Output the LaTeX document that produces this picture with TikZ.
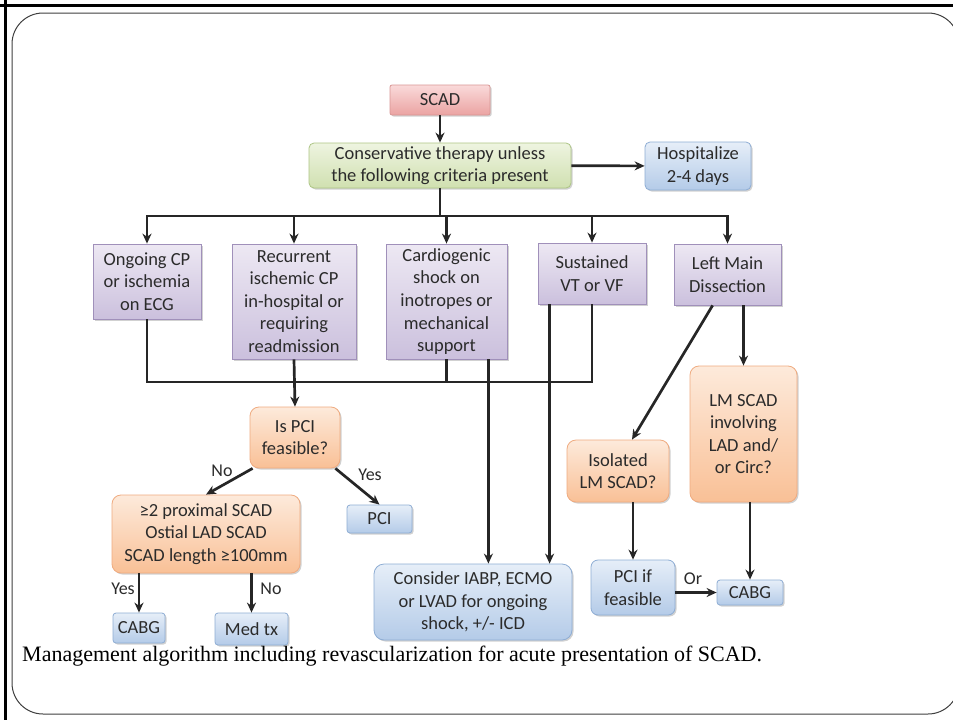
\documentclass[tikz,border=0pt]{standalone}
\usepackage{fontspec}
\usetikzlibrary{arrows.meta,shadows}
\newfontfamily\boxfamily{Carlito}
\newfontfamily\capfamily{Liberation Serif}
\definecolor{txt}{HTML}{2B2B2B}
\definecolor{pinkT}{HTML}{FADADA}\definecolor{pinkB}{HTML}{EBA3A2}\definecolor{pinkD}{HTML}{D99694}
\definecolor{greenT}{HTML}{EEF4E0}\definecolor{greenB}{HTML}{D0E0B0}\definecolor{greenD}{HTML}{ADC585}
\definecolor{blueT}{HTML}{E6EEF8}\definecolor{blueB}{HTML}{B4CBE8}\definecolor{blueD}{HTML}{8EADD4}
\definecolor{purpT}{HTML}{EDE8F3}\definecolor{purpB}{HTML}{CBC0DD}\definecolor{purpD}{HTML}{A090BA}
\definecolor{oranT}{HTML}{FDEADB}\definecolor{oranB}{HTML}{F9C096}\definecolor{oranD}{HTML}{EFAB80}
\begin{document}
\begin{tikzpicture}[x=1pt,y=-1pt,
  box/.style={draw, line width=0.8pt, text=txt, align=center, inner sep=2pt,
    font=\boxfamily\fontsize{18.5}{22.6}\selectfont,
    general shadow={fill=black, opacity=0.18, shadow xshift=1.5pt, shadow yshift=-1.5pt}},
  pinkbox/.style={box, draw=pinkD, top color=pinkT, bottom color=pinkB, rounded corners=2pt},
  greenbox/.style={box, draw=greenD, top color=greenT, bottom color=greenB, rounded corners=5pt},
  bluebox/.style={box, draw=blueD, top color=blueT, bottom color=blueB, rounded corners=5pt},
  purpbox/.style={box, draw=purpD, top color=purpT, bottom color=purpB},
  oranbox/.style={box, draw=oranD, top color=oranT, bottom color=oranB, rounded corners=9pt},
  lab/.style={text=txt, font=\boxfamily\fontsize{18}{22}\selectfont, inner sep=1pt},
  ln/.style={line width=2.7pt, draw=black!85},
  arr/.style={ln, -{Stealth[length=10pt,width=9pt]}}
]
\useasboundingbox (0,0) rectangle (953,720);
\fill[white] (0,0) rectangle (953,720);
\begin{scope}
\clip (0,0) rectangle (953,720);
\draw[black!75, line width=1pt, rounded corners=31pt] (12,13) rectangle (959,714);
\draw[black, line width=3pt] (0,5.5) -- (953,5.5);
\draw[black, line width=3pt] (5.5,0) -- (5.5,720);
\end{scope}

% nodes
\node[pinkbox, minimum width=100pt, minimum height=30pt] (scad) at (440,100) {SCAD};
\node[greenbox, minimum width=262pt, minimum height=45pt] (cons) at (440,165.5) {Conservative therapy unless\\the following criteria present};
\node[bluebox, minimum width=106pt, minimum height=48pt] (hosp) at (698,166) {Hospitalize\\2-4 days};

\node[purpbox, minimum width=108pt, minimum height=75pt] (ongo) at (147,281.5) {Ongoing CP\\or ischemia\\on ECG};
\node[purpbox, minimum width=124pt, minimum height=115pt] (recur) at (294,301.5) {Recurrent\\ischemic CP\\in-hospital or\\requiring\\readmission};
\node[purpbox, minimum width=121pt, minimum height=115pt] (cardio) at (446.5,301.5) {Cardiogenic\\shock on\\inotropes or\\mechanical\\support};
\node[purpbox, minimum width=108pt, minimum height=61pt] (sust) at (592,273.5) {Sustained\\VT or VF};
\node[purpbox, minimum width=107pt, minimum height=61pt] (lmain) at (727.5,274.5) {Left Main\\Dissection};

\node[oranbox, minimum width=90pt, minimum height=61pt] (ispci) at (295,437.5) {Is PCI\\feasible?};
\node[bluebox, rounded corners=3pt, minimum width=65pt, minimum height=28pt] (pci) at (379.5,519) {PCI};
\node[oranbox, minimum width=188pt, minimum height=78pt] (prox) at (206,534) {≥2 proximal SCAD\\Ostial LAD SCAD\\SCAD length ≥100mm};
\node[bluebox, rounded corners=3pt, minimum width=52pt, minimum height=30pt] (cabgl) at (139,628) {CABG};
\node[bluebox, rounded corners=3pt, minimum width=73pt, minimum height=32pt] (medtx) at (251.5,629) {Med tx};

\node[bluebox, rounded corners=10pt, minimum width=198pt, minimum height=76pt] (consid) at (473,602) {Consider IABP, ECMO\\or LVAD for ongoing\\shock, +/- ICD};

\node[oranbox, minimum width=102pt, minimum height=62pt] (isol) at (618,471) {Isolated\\LM SCAD?};
\node[oranbox, minimum width=107pt, minimum height=136pt] (lmscad) at (743.5,434) {LM SCAD\\involving\\LAD and/\\or Circ?};
\node[bluebox, rounded corners=7pt, minimum width=84pt, minimum height=55pt] (pciif) at (633,587.5) {PCI if\\feasible};
\node[bluebox, rounded corners=3pt, minimum width=66pt, minimum height=25pt] (cabgr) at (750,592.5) {CABG};

% labels
\node[lab] (lno1) at (222,471) {No};
\node[lab] (lyes1) at (370,475) {Yes};
\node[lab] (lyes2) at (123,589) {Yes};
\node[lab] (lno2) at (271,589) {No};
\node[lab] (lor) at (693,579) {Or};

\node[anchor=base west, inner sep=0pt, text=black, font=\capfamily\fontsize{22}{24}\selectfont] (cap) at (22,661) {Management algorithm including revascularization for acute presentation of SCAD.};

% connectors
\coordinate (bus) at (440,216);
\coordinate (lbus) at (0,382);
\draw[arr] (scad) -- (cons);
\draw[arr] (cons) -- (hosp);
\draw[ln] (cons.south) -- (bus);
\draw[arr] (bus) -| (ongo.north);
\draw[arr] (bus) -| (lmain.north);
\draw[arr] (bus -| recur.north) -- (recur.north);
\draw[arr] (bus -| cardio.north) -- (cardio.north);
\draw[arr] (bus -| sust.north) -- (sust.north);

\draw[ln] (ongo.south) |- (lbus -| sust.south) -- (sust.south);
\draw[ln] (cardio.south) -- (cardio.south |- lbus);
\draw[arr] (recur.south) -- (ispci.north);

\coordinate (c1) at ([xshift=-19pt]cardio.south east);
\coordinate (s1) at ([xshift=12pt]sust.south west);
\draw[arr] (c1) -- (c1 |- consid.north);
\draw[arr] (s1) -- (s1 |- consid.north);

\draw[arr] ([xshift=3pt]ispci.south west) -- (prox.north);
\draw[arr] ([xshift=-5pt]ispci.south east) -- (pci.north);
\draw[arr] (cabgl.north |- prox.south) -- (cabgl.north);
\draw[arr] (medtx.north |- prox.south) -- (medtx.north);

\coordinate (lm1) at ([xshift=39pt]lmain.south west);
\coordinate (is1) at ([xshift=14pt]isol.north);
\draw[arr] (lm1) -- (is1);
\draw[arr] (lmscad.north |- lmain.south) -- (lmscad.north);
\draw[arr] (pciif.north |- isol.south) -- (pciif.north);
\draw[arr] (cabgr.north |- lmscad.south) -- (cabgr.north);
\draw[arr] (pciif.east |- cabgr.west) -- (cabgr.west);
\end{tikzpicture}
\end{document}
